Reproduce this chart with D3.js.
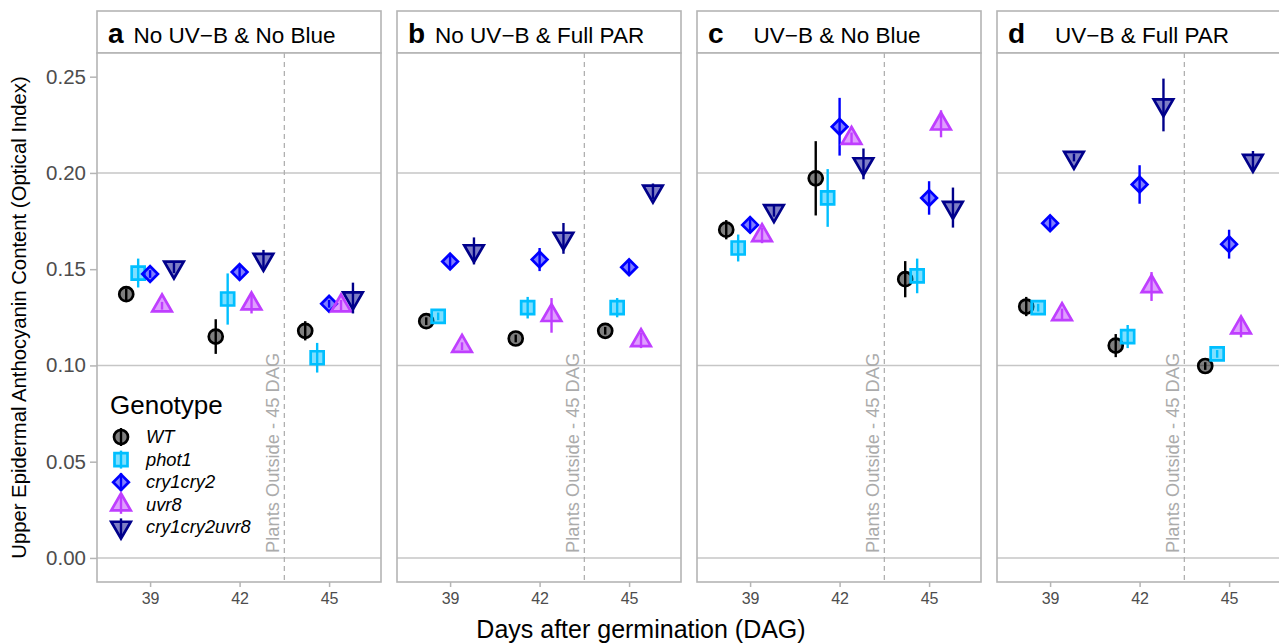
<!DOCTYPE html>
<html>
<head>
<meta charset="utf-8">
<script src="https://d3js.org/d3.v7.min.js"></script>
<style>
  body { margin: 0; background: #fff; }
  svg { font-family: "Liberation Sans", Arial, Helvetica, sans-serif; }
</style>
</head>
<body>
<svg id="chart" width="1279" height="644"></svg>
<script>
// ---- data ----
const days = [39, 42, 45];
const genotypes = ["WT", "phot1", "cry1cry2", "uvr8", "cry1cry2uvr8"];
const genoColors = ["#000000", "#00BFFF", "#0000FF", "#BF3EFF", "#00008B"];
const panelLetters = ["a", "b", "c", "d"];
const panelTitles = ["No UV\u2212B & No Blue", "No UV\u2212B & Full PAR", "UV\u2212B & No Blue", "UV\u2212B & Full PAR"];
const yTicks = [0, 0.05, 0.10, 0.15, 0.20, 0.25];
const yGrid = [0, 0.10, 0.20];

// mean per genotype (rows) per day (cols)
const meanA = [[0.137, 0.115, 0.118], [0.148, 0.1345, 0.104], [0.1475, 0.1485, 0.132], [0.131, 0.132, 0.131], [0.151, 0.155, 0.135]];
const errA  = [[0.003, 0.009, 0.005], [0.0075, 0.0133, 0.0077], [0.002, 0.003, 0.002], [0.002, 0.005, 0.003], [0.003, 0.005, 0.008]];
const meanB = [[0.123, 0.114, 0.118], [0.1255, 0.130, 0.130], [0.154, 0.155, 0.151], [0.110, 0.126, 0.113], [0.1595, 0.166, 0.1905]];
const errB  = [[0.002, 0.002, 0.002], [0.002, 0.0056, 0.005], [0.003, 0.006, 0.003], [0.002, 0.009, 0.004], [0.007, 0.008, 0.004]];
const meanC = [[0.1705, 0.1972, 0.1448], [0.161, 0.187, 0.1465], [0.173, 0.224, 0.187], [0.1675, 0.218, 0.2255], [0.1803, 0.2047, 0.182]];
const errC  = [[0.005, 0.0193, 0.0094], [0.007, 0.015, 0.009], [0.003, 0.015, 0.0087], [0.004, 0.003, 0.007], [0.003, 0.008, 0.0104]];
const meanD = [[0.1306, 0.1103, 0.0997], [0.130, 0.115, 0.106], [0.1739, 0.194, 0.163], [0.1265, 0.141, 0.1196], [0.208, 0.2353, 0.2064]];
const errD  = [[0.005, 0.006, 0.002], [0.002, 0.006, 0.002], [0.003, 0.010, 0.0075], [0.003, 0.0075, 0.005], [0.002, 0.0137, 0.005]];

const means = [meanA, meanB, meanC, meanD];
const errs = [errA, errB, errC, errD];
const dodge = [-0.8, -0.4, 0, 0.4, 0.8];
const outsideDay = 43.5;

// ---- layout ----
const svg = d3.select('#chart');
const panelLeft = [97, 397, 697, 997];
const panelW = 284;
const stripTop = 11, plotTop = 53, plotBottom = 582;
const gridCol = "#c6c6c6", borderCol = "#b5b5b5";

const y = d3.scaleLinear().domain([-0.0125, 0.2623]).range([plotBottom, plotTop]);

// marker shapes
function shapePath(i) {
  if (i === 0) return d3.symbol().type(d3.symbolCircle).size(Math.PI * 7 * 7)();
  if (i === 1) return d3.symbol().type(d3.symbolSquare).size(13 * 13)();
  if (i === 2) { const r = 7.8; return `M0,${-r}L${r},0L0,${r}L${-r},0Z`; }
  return d3.symbol().type(d3.symbolTriangle).size(165)();
}
function drawMarker(g, i, cx, cy) {
  g.append('path')
    .attr('d', shapePath(i))
    .attr('transform', `translate(${cx},${cy})` + (i === 4 ? ' rotate(180)' : ''))
    .attr('fill', genoColors[i]).attr('fill-opacity', 0.5)
    .attr('stroke', genoColors[i]).attr('stroke-width', 2.7);
}

panelLeft.forEach(function(left, p) {
  const x = d3.scaleLinear().domain([37.22, 46.74]).range([left, left + panelW]);
  const g = svg.append('g');

  // strip
  g.append('rect').attr('x', left).attr('y', stripTop).attr('width', panelW).attr('height', plotTop - stripTop)
    .attr('fill', '#fff').attr('stroke', borderCol).attr('stroke-width', 1.6);
  const st = g.append('text').attr('x', left + 11).attr('y', 43);
  st.append('tspan').attr('font-weight', 'bold').attr('font-size', 28).text(panelLetters[p]);
  st.append('tspan').attr('font-size', 22.5).attr('dx', p < 2 ? 10 : 30).text(panelTitles[p]);

  // panel
  g.append('rect').attr('x', left).attr('y', plotTop).attr('width', panelW).attr('height', plotBottom - plotTop)
    .attr('fill', '#fff');
  g.selectAll('.grid').data(yGrid).enter().append('line')
    .attr('x1', left).attr('x2', left + panelW)
    .attr('y1', d => y(d)).attr('y2', d => y(d))
    .attr('stroke', gridCol).attr('stroke-width', 1.5);

  // outside marker
  g.append('line').attr('x1', x(outsideDay)).attr('x2', x(outsideDay))
    .attr('y1', plotTop).attr('y2', plotBottom)
    .attr('stroke', '#b0b0b0').attr('stroke-width', 1.3).attr('stroke-dasharray', '5,4');
  g.append('text')
    .attr('transform', `translate(${x(outsideDay) - 5},${y(0) - 5}) rotate(-90)`)
    .attr('font-size', 18.3).attr('fill', '#ababab')
    .text('Plants Outside - 45 DAG');

  // points + error bars
  genotypes.forEach(function(gn, i) {
    days.forEach(function(d, j) {
      const m = means[p][i][j], e = errs[p][i][j];
      const cx = x(d + dodge[i]);
      drawMarker(g, i, cx, y(m));
      g.append('line').attr('x1', cx).attr('x2', cx)
        .attr('y1', y(m - e)).attr('y2', y(m + e))
        .attr('stroke', genoColors[i]).attr('stroke-width', 2.4);
    });
  });

  // border
  g.append('rect').attr('x', left).attr('y', plotTop).attr('width', panelW).attr('height', plotBottom - plotTop)
    .attr('fill', 'none').attr('stroke', borderCol).attr('stroke-width', 1.6);

  // x axis
  const xa = g.append('g').attr('transform', `translate(0,${plotBottom})`)
    .call(d3.axisBottom(x).tickValues(days).tickSize(5).tickPadding(6).tickFormat(d3.format('d')));
  xa.select('.domain').remove();
  xa.selectAll('line').attr('stroke', borderCol).attr('stroke-width', 1.5);
  xa.selectAll('text').attr('font-size', 16).attr('fill', '#4d4d4d').attr('font-family', null);
});

// y axis
const ya = svg.append('g').attr('transform', `translate(${panelLeft[0]},0)`)
  .call(d3.axisLeft(y).tickValues(yTicks).tickSize(7).tickPadding(4).tickFormat(d3.format('.2f')));
ya.select('.domain').remove();
ya.selectAll('line').attr('stroke', borderCol).attr('stroke-width', 1.5);
ya.selectAll('text').attr('font-size', 20.5).attr('fill', '#4d4d4d').attr('font-family', null);

// axis titles
svg.append('text').attr('transform', `translate(26,${(plotTop + plotBottom) / 2}) rotate(-90)`)
  .attr('text-anchor', 'middle').attr('font-size', 20.3)
  .text('Upper Epidermal Anthocyanin Content (Optical Index)');
svg.append('text').attr('x', 641).attr('y', 638).attr('text-anchor', 'middle').attr('font-size', 25)
  .text('Days after germination (DAG)');

// legend
const lg = svg.append('g');
lg.append('text').attr('x', 110).attr('y', 414).attr('font-size', 26).text('Genotype');
genotypes.forEach(function(gn, i) {
  const ky = 437 + i * 22.6;
  drawMarker(lg, i, 121, ky);
  lg.append('line').attr('x1', 121).attr('x2', 121).attr('y1', ky - 9).attr('y2', ky + 9)
    .attr('stroke', genoColors[i]).attr('stroke-width', 2.4);
  lg.append('text').attr('x', 146).attr('y', ky + 6).attr('font-size', 18.3).attr('font-style', 'italic').text(gn);
});
</script>
</body>
</html>
